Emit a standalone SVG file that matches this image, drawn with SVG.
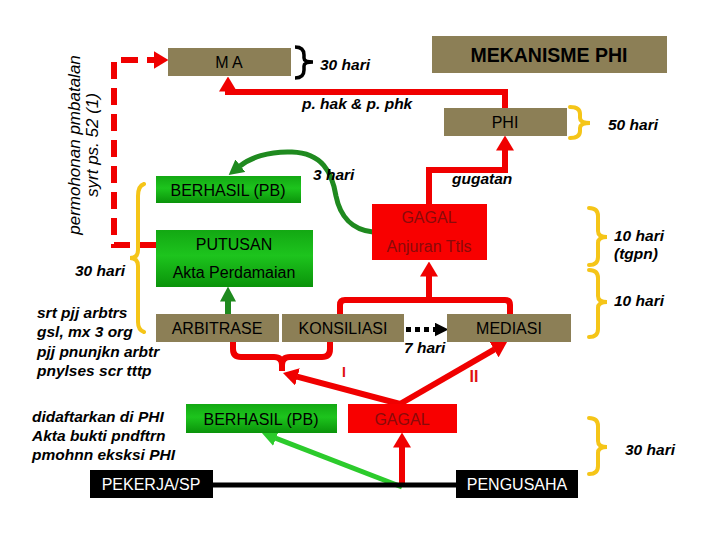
<svg xmlns="http://www.w3.org/2000/svg" width="720" height="540" viewBox="0 0 720 540">
<defs>
<linearGradient id="gg" x1="0" y1="0" x2="0" y2="1">
<stop offset="0" stop-color="#13A813"/>
<stop offset="0.45" stop-color="#1DC41D"/>
<stop offset="1" stop-color="#0A930A"/>
</linearGradient>
<marker id="mr" viewBox="0 0 15 18" refX="0.5" refY="9" markerWidth="15" markerHeight="18" markerUnits="userSpaceOnUse" orient="auto"><path d="M0,0 L15,9 L0,18 z" fill="#F00000"/></marker>
<marker id="mg" viewBox="0 0 15 16" refX="0.5" refY="8" markerWidth="15" markerHeight="16" markerUnits="userSpaceOnUse" orient="auto"><path d="M0,0 L15,8 L0,16 z" fill="#1F8A1F"/></marker>
<marker id="ml" viewBox="0 0 15 16" refX="0.5" refY="8" markerWidth="15" markerHeight="16" markerUnits="userSpaceOnUse" orient="auto"><path d="M0,0 L15,8 L0,16 z" fill="#2CCB2C"/></marker>
<marker id="mk" viewBox="0 0 14 14" refX="0.5" refY="7" markerWidth="14" markerHeight="14" markerUnits="userSpaceOnUse" orient="auto"><path d="M0,0 L14,7 L0,14 z" fill="#000"/></marker>
</defs>
<style>
.ol{fill:#8C7F56}
.gr{fill:url(#gg)}
.rd{fill:#F80000}
.bk{fill:#000}
.t{font-family:"Liberation Sans",Arial,sans-serif;font-size:16px;text-anchor:middle;fill:#000}
.ttl{font-size:19.5px;font-weight:bold}
.tr{fill:#8A0A0A}
.tw{fill:#fff}
.it{font-family:"Liberation Sans",Arial,sans-serif;font-size:15.5px;font-style:italic;font-weight:bold;fill:#000}
.rot{font-family:"Liberation Sans",Arial,sans-serif;font-size:17px;font-style:italic;fill:#000;text-anchor:middle}
.rl{fill:none;stroke:#F00000;stroke-width:6}
.br{fill:none;stroke:#F5C518;stroke-width:4;stroke-linecap:round}
.lab{font-family:"Liberation Sans",Arial,sans-serif;font-weight:bold;fill:#E01010;text-anchor:middle}
</style>
<rect width="720" height="540" fill="#fff"/>

<g id="connectors">
<path class="rl" d="M156,245 H114 V60 H154" stroke-dasharray="17 9" marker-end="url(#mr)"/>
<path class="rl" d="M505,108 V92 H228"/>
<path class="rl" d="M228,95 V91" marker-end="url(#mr)"/>
<path class="rl" d="M429,204 V170 H505 V150" marker-end="url(#mr)"/>
<path class="rl" d="M340,314 V305 Q340,300 345,300 H505 Q510,300 510,305 V314" stroke-linejoin="round"/>
<path class="rl" d="M429,300 V276" marker-end="url(#mr)"/>
<path class="rl" stroke-width="5" d="M233,342 V349 Q233,357 241,357 H274 Q282,357 282,365 V371 M330,342 V349 Q330,357 322,357 H290 Q282,357 282,365"/>
<path class="rl" d="M400,404 L297,376.7" marker-end="url(#mr)"/>
<path class="rl" d="M400,404 L494.5,349.3" marker-end="url(#mr)"/>
<path class="rl" d="M402,487 V447" marker-end="url(#mr)"/>
<path d="M402,487 L275.5,438.2" fill="none" stroke="#2CCB2C" stroke-width="5" marker-end="url(#ml)"/>
<path d="M213,485 H456" fill="none" stroke="#000" stroke-width="5"/>
<path d="M406,329.5 H435" fill="none" stroke="#000" stroke-width="5" stroke-dasharray="5 4" marker-end="url(#mk)"/>
<path d="M228,314 V301" fill="none" stroke="#1F8A1F" stroke-width="6" marker-end="url(#mg)"/>
<path d="M373,232 C352,230 340,216 336,196 C332,172 322,153 292,152 C268,151 250,158 240,166" fill="none" stroke="#1F8A1F" stroke-width="5" marker-end="url(#mg)"/>
</g>

<g id="braces">
<path d="M295,47 Q304,47 304,55 V58 Q304,62 313,62 Q304,62 304,66 V70 Q304,78 295,78" fill="none" stroke="#000" stroke-width="3.5"/>
<path class="br" d="M570,107 Q580,107 580,114 V118 Q580,123 590,123 Q580,123 580,128 V131 Q580,138 570,138"/>
<path class="br" d="M589,208 Q598,208 598,216 V231 Q598,237 607,237 Q598,237 598,243 V257 Q598,265 589,265"/>
<path class="br" d="M589,270 Q598,270 598,278 V296 Q598,302 607,302 Q598,302 598,308 V329 Q598,337 589,337"/>
<path class="br" d="M589,418 Q598,418 598,426 V441 Q598,447 607,447 Q598,447 598,453 V466 Q598,474 589,474"/>
<path class="br" d="M144,184 Q138,186 138,196 V250 Q138,258 130,258 Q138,258 138,266 V322 Q138,330 144,332"/>
</g>

<g id="ma"><rect class="ol" x="168" y="48" width="123" height="28"/><text class="t" x="229" y="68">M A</text></g>
<g id="title"><rect class="ol" x="432" y="36" width="235" height="37"/><text class="t ttl" x="549" y="62">MEKANISME PHI</text></g>
<g id="phi"><rect class="ol" x="444" y="108" width="123" height="28"/><text class="t" x="505" y="128">PHI</text></g>
<g id="gagal1"><rect class="rd" x="372" y="204" width="115" height="56"/><text class="t tr" x="429" y="223">GAGAL</text><text class="t tr" x="429" y="252">Anjuran Ttls</text></g>
<g id="berhasil1"><rect class="gr" x="156" y="176" width="145" height="27"/><text class="t" x="228" y="196">BERHASIL (PB)</text></g>
<g id="putusan"><rect class="gr" x="156" y="230" width="157" height="57"/><text class="t" x="234" y="250">PUTUSAN</text><text class="t" x="234" y="278">Akta Perdamaian</text></g>
<g id="arbitrase"><rect class="ol" x="156" y="314" width="123" height="28"/><text class="t" x="217" y="334">ARBITRASE</text></g>
<g id="konsiliasi"><rect class="ol" x="282" y="314" width="122" height="28"/><text class="t" x="343" y="334">KONSILIASI</text></g>
<g id="mediasi"><rect class="ol" x="447" y="314" width="124" height="28"/><text class="t" x="509" y="334">MEDIASI</text></g>
<g id="berhasil2"><rect class="gr" x="186" y="404" width="151" height="29"/><text class="t" x="261" y="425">BERHASIL (PB)</text></g>
<g id="gagal2"><rect class="rd" x="348" y="404" width="109" height="29"/><text class="t tr" x="402" y="425">GAGAL</text></g>
<g id="pekerja"><rect class="bk" x="90" y="470" width="123" height="28"/><text class="t tw" x="151" y="490">PEKERJA/SP</text></g>
<g id="pengusaha"><rect class="bk" x="456" y="470" width="122" height="28"/><text class="t tw" x="517" y="490">PENGUSAHA</text></g>

<g id="labels">
<text class="rot" transform="translate(80,145) rotate(-90)">permohonan pmbatalan</text>
<text class="rot" transform="translate(98,145) rotate(-90)">syrt ps. 52 (1)</text>
<text class="it" x="320" y="70">30 hari</text>
<text class="it" x="302" y="109">p. hak &amp; p. phk</text>
<text class="it" x="608" y="130">50 hari</text>
<text class="it" x="452" y="184">gugatan</text>
<text class="it" x="313" y="180">3 hari</text>
<text class="it" x="614" y="241">10 hari</text>
<text class="it" x="614" y="259">(tgpn)</text>
<text class="it" x="614" y="306">10 hari</text>
<text class="it" x="75" y="276">30 hari</text>
<text class="it" x="404" y="353">7 hari</text>
<text class="it" x="625" y="455">30 hari</text>
<text class="it" x="37" y="318">srt pjj arbtrs</text>
<text class="it" x="37" y="337">gsl, mx 3 org</text>
<text class="it" x="37" y="357">pjj pnunjkn arbtr</text>
<text class="it" x="37" y="376">pnylses scr tttp</text>
<text class="it" x="32" y="422">didaftarkan di PHI</text>
<text class="it" x="32" y="441">Akta bukti pndftrn</text>
<text class="it" x="32" y="460">pmohnn eksksi PHI</text>
<text class="lab" x="344" y="377" style="font-size:14px">I</text>
<text class="lab" x="474" y="382" style="font-size:16px">II</text>
</g>
</svg>
